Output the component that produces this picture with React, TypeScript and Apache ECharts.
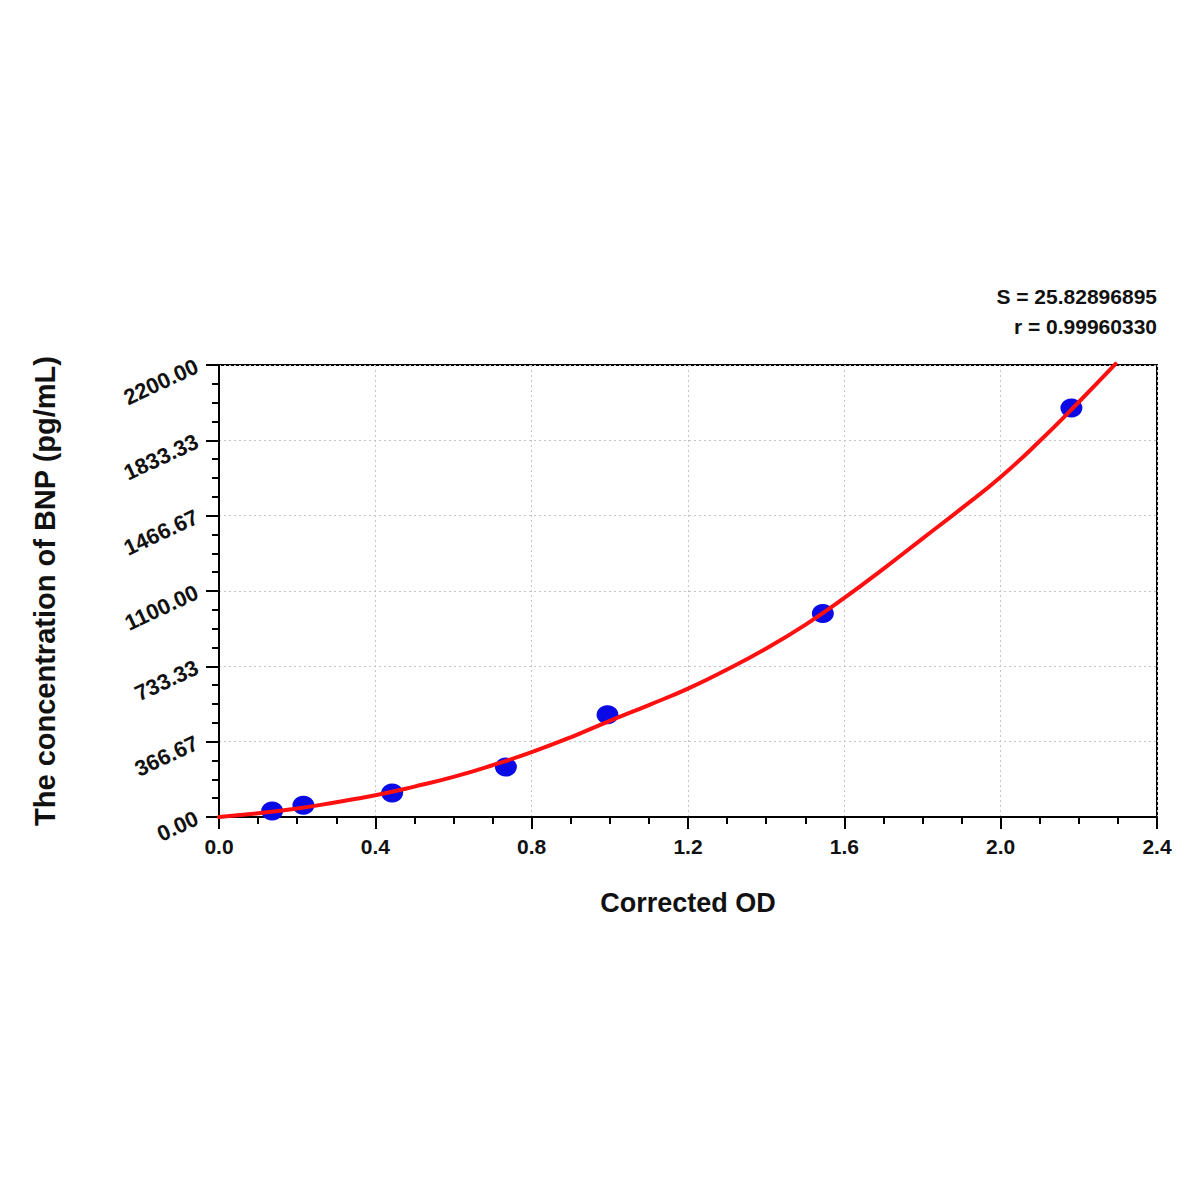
import React, { useEffect, useRef } from "react";
import * as echarts from "echarts";

const stdX = [0.136, 0.216, 0.443, 0.734, 0.994, 1.545, 2.181];
const stdY = [29, 57, 117, 243, 498, 990, 1991];

const curveX = [0, 0.1, 0.2, 0.3, 0.4, 0.5, 0.6, 0.7, 0.8, 0.9, 1.0, 1.1, 1.2, 1.3, 1.4, 1.5, 1.6, 1.7, 1.8, 1.9, 2.0, 2.1, 2.2, 2.294];
const curveY = [0, 18, 41, 72, 106, 148, 195, 252, 316, 388, 468, 545, 625, 718, 820, 935, 1066, 1208, 1355, 1502, 1655, 1830, 2020, 2205];

const yTicks = ["0.00", "366.67", "733.33", "1100.00", "1466.67", "1833.33", "2200.00"];
const statS = "S = 25.82896895";
const statR = "r = 0.99960330";

const FONT = "Liberation Sans, Arial, sans-serif";

export default function App() {
  const ref = useRef<HTMLDivElement>(null);
  useEffect(() => {
    if (!ref.current) return;
    const chart = echarts.init(ref.current, null, { renderer: "svg" });
    chart.setOption({
      animation: false,
      backgroundColor: "#fff",
      textStyle: { fontFamily: FONT },
      grid: {
        left: 219,
        right: 43,
        top: 365,
        bottom: 383,
        show: true,
        borderColor: "#000",
        borderWidth: 2,
        backgroundColor: "transparent",
      },
      graphic: [
        {
          type: "text",
          right: 43,
          top: 286,
          style: { text: statS, font: "bold 21px " + FONT, fill: "#111", textAlign: "right" },
        },
        {
          type: "text",
          right: 43,
          top: 316,
          style: { text: statR, font: "bold 21px " + FONT, fill: "#111", textAlign: "right" },
        },
      ],
      xAxis: {
        type: "value",
        min: 0,
        max: 2.4,
        interval: 0.4,
        name: "Corrected OD",
        nameLocation: "middle",
        nameGap: 72,
        nameTextStyle: { fontFamily: FONT, fontWeight: "bold", fontSize: 27, color: "#111" },
        axisLine: { show: true, lineStyle: { color: "#000", width: 2 } },
        axisTick: { show: true, inside: false, length: 12, lineStyle: { color: "#000", width: 2 } },
        minorTick: { show: true, splitNumber: 4, length: 7, lineStyle: { color: "#000", width: 2 } },
        axisLabel: {
          formatter: (v: number) => v.toFixed(1),
          fontFamily: FONT,
          fontWeight: "bold",
          fontSize: 21,
          color: "#111",
          margin: 19,
        },
        splitLine: { show: true, lineStyle: { color: "#c4c4c4", type: [2, 3], width: 1 } },
      },
      yAxis: {
        type: "value",
        min: 0,
        max: 2200,
        interval: 2200 / 6,
        name: "The concentration of BNP (pg/mL)",
        nameLocation: "middle",
        nameGap: 160,
        nameRotate: 90,
        nameTextStyle: { fontFamily: FONT, fontWeight: "bold", fontSize: 29, color: "#111" },
        axisLine: { show: true, lineStyle: { color: "#000", width: 2 } },
        axisTick: { show: true, inside: false, length: 13, lineStyle: { color: "#000", width: 2 } },
        minorTick: { show: true, splitNumber: 4, length: 7, lineStyle: { color: "#000", width: 2 } },
        axisLabel: {
          formatter: (v: number) => {
            const idx = Math.round(v / (2200 / 6));
            return yTicks[idx] ?? v.toFixed(2);
          },
          rotate: 25,
          fontFamily: FONT,
          fontWeight: "bold",
          fontSize: 22,
          color: "#111",
          margin: 22,
        },
        splitLine: { show: true, lineStyle: { color: "#c4c4c4", type: [2, 3], width: 1 } },
      },
      series: [
        {
          type: "line",
          data: curveX.map((x, i) => [x, curveY[i]]),
          smooth: true,
          symbol: "none",
          clip: false,
          lineStyle: { color: "#ff1010", width: 4, cap: "round" },
          z: 3,
        },
        {
          type: "scatter",
          data: stdX.map((x, i) => [x, stdY[i]]),
          symbol: "circle",
          symbolSize: [22, 19],
          itemStyle: { color: "#0a0ae6", opacity: 1 },
          z: 2,
        },
      ],
    });
    return () => chart.dispose();
  }, []);
  return (
    <div
      ref={ref}
      style={{ position: "fixed", left: 0, top: 0, width: 1200, height: 1200, background: "#fff" }}
    />
  );
}
